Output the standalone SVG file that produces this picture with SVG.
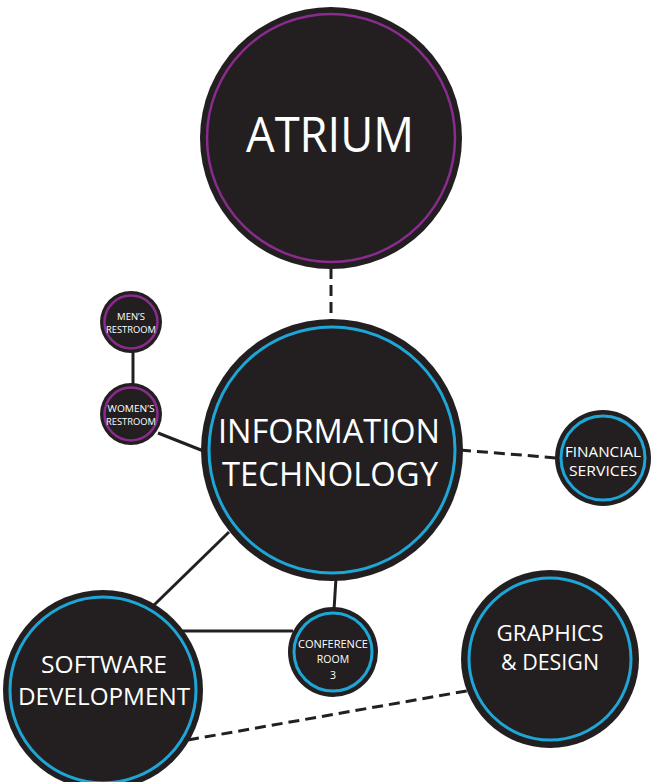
<svg xmlns="http://www.w3.org/2000/svg" width="653" height="782" viewBox="0 0 653 782">
  <style>
    .disc { fill: #231f20; }
    .ring-p { fill: none; stroke: #8a2b8e; stroke-width: 2.5; }
    .ring-b { fill: none; stroke: #1ea6d6; stroke-width: 3; }
    .lbl { fill: #ffffff; font-family: "Open Sans", "Liberation Sans", sans-serif; text-anchor: middle; }
    .link { stroke: #231f20; stroke-width: 3; fill: none; }
    .dash { stroke-dasharray: 11 6; }
  </style>
  <rect width="653" height="782" fill="#ffffff"/>

  <g id="connectors">
    <line class="link dash" x1="331" y1="268" x2="331" y2="322"/>
    <line class="link" x1="133" y1="352" x2="133" y2="384"/>
    <line class="link" x1="158" y1="433" x2="206" y2="452"/>
    <line class="link dash" x1="460" y1="450" x2="557" y2="458"/>
    <line class="link" x1="229" y1="532" x2="152" y2="607"/>
    <line class="link" x1="180" y1="631" x2="293" y2="631"/>
    <line class="link" x1="336" y1="578" x2="334" y2="610"/>
    <line class="link dash" x1="188" y1="740" x2="472" y2="690"/>
  </g>

  <g id="atrium">
    <circle class="disc" cx="331" cy="138" r="131"/>
    <circle class="ring-p" cx="331" cy="138" r="124"/>
    <text class="lbl" x="330" y="152" font-size="50" textLength="168" lengthAdjust="spacingAndGlyphs">ATRIUM</text>
  </g>

  <g id="information-technology">
    <circle class="disc" cx="332" cy="450" r="131"/>
    <circle class="ring-b" cx="332" cy="450" r="123"/>
    <text class="lbl" x="329" y="443" font-size="33" textLength="222" lengthAdjust="spacingAndGlyphs">INFORMATION</text>
    <text class="lbl" x="330" y="486" font-size="33" textLength="216" lengthAdjust="spacingAndGlyphs">TECHNOLOGY</text>
  </g>

  <g id="mens-restroom">
    <circle class="disc" cx="131" cy="322" r="31"/>
    <circle class="ring-p" cx="131" cy="322" r="26.5"/>
    <text class="lbl" x="131" y="320" font-size="9.5">MEN’S</text>
    <text class="lbl" x="131" y="333" font-size="9.5" textLength="50" lengthAdjust="spacingAndGlyphs">RESTROOM</text>
  </g>

  <g id="womens-restroom">
    <circle class="disc" cx="131" cy="414" r="31"/>
    <circle class="ring-p" cx="131" cy="414" r="26.5"/>
    <text class="lbl" x="131" y="412" font-size="9.5" textLength="47" lengthAdjust="spacingAndGlyphs">WOMEN’S</text>
    <text class="lbl" x="131" y="425" font-size="9.5" textLength="50" lengthAdjust="spacingAndGlyphs">RESTROOM</text>
  </g>

  <g id="financial-services">
    <circle class="disc" cx="603" cy="458" r="48"/>
    <circle class="ring-b" cx="603" cy="458" r="42"/>
    <text class="lbl" x="603" y="457" font-size="15" textLength="76" lengthAdjust="spacingAndGlyphs">FINANCIAL</text>
    <text class="lbl" x="603" y="476" font-size="15" textLength="68" lengthAdjust="spacingAndGlyphs">SERVICES</text>
  </g>

  <g id="graphics-design">
    <circle class="disc" cx="550" cy="659" r="89"/>
    <circle class="ring-b" cx="550" cy="659" r="81"/>
    <text class="lbl" x="550" y="641" font-size="21" textLength="107" lengthAdjust="spacingAndGlyphs">GRAPHICS</text>
    <text class="lbl" x="550" y="670" font-size="21" textLength="98" lengthAdjust="spacingAndGlyphs">&amp; DESIGN</text>
  </g>

  <g id="software-development">
    <circle class="disc" cx="103" cy="690" r="100"/>
    <circle class="ring-b" cx="103" cy="690" r="93"/>
    <text class="lbl" x="104" y="673" font-size="23" textLength="126" lengthAdjust="spacingAndGlyphs">SOFTWARE</text>
    <text class="lbl" x="104" y="705" font-size="23" textLength="172" lengthAdjust="spacingAndGlyphs">DEVELOPMENT</text>
  </g>

  <g id="conference-room-3">
    <circle class="disc" cx="333" cy="652" r="45"/>
    <circle class="ring-b" cx="333" cy="652" r="39"/>
    <text class="lbl" x="333" y="648" font-size="10.5" textLength="70" lengthAdjust="spacingAndGlyphs">CONFERENCE</text>
    <text class="lbl" x="333" y="663" font-size="10.5">ROOM</text>
    <text class="lbl" x="333" y="679" font-size="10.5">3</text>
  </g>
</svg>
